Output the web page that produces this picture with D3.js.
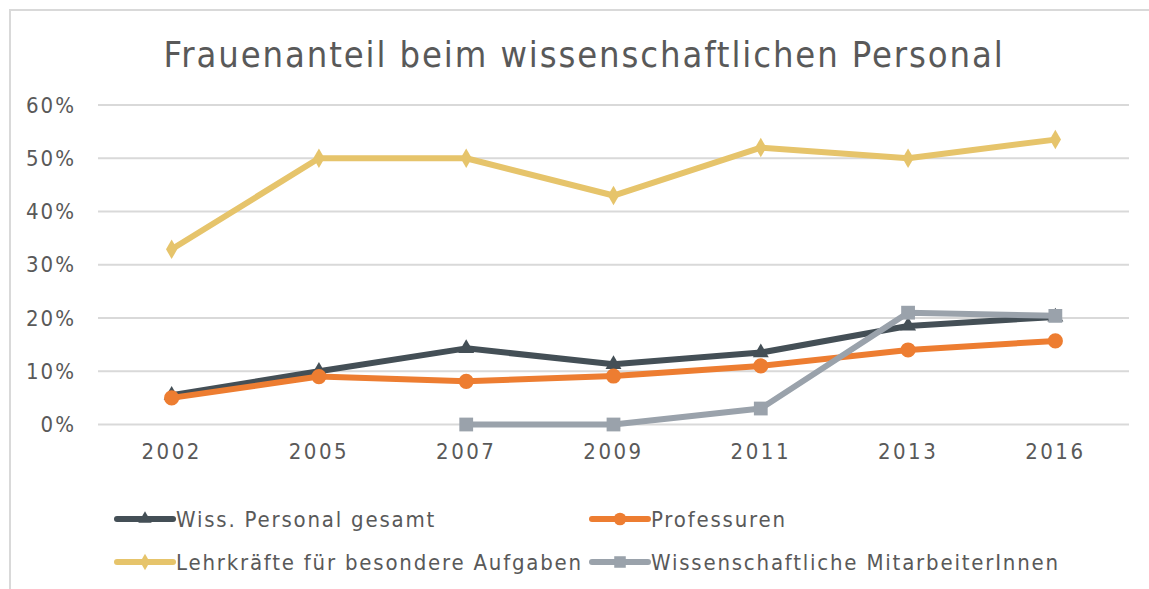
<!DOCTYPE html>
<html>
<head>
<meta charset="utf-8">
<script src="https://cdn.jsdelivr.net/npm/d3@7"></script>
<style>
  body { margin: 0; background: #fff; }
  text { font-family: "DejaVu Sans Condensed", sans-serif; fill: #595959; }
</style>
</head>
<body>
<div id="chart"></div>
<script>
// Categories and values (share of women, %)
const years = ["2002", "2005", "2007", "2009", "2011", "2013", "2016"]
const gesamt = [5.5, 10.0, 14.3, 11.3, 13.5, 18.5, 20.2]
const professuren = [5.0, 9.0, 8.1, 9.1, 11.0, 14.0, 15.7]
const lehrkraefte = [32.9, 50.0, 50.0, 43.0, 52.0, 50.0, 53.5]
const mitarbeiter = [null, null, 0.0, 0.0, 3.0, 21.0, 20.4]
const yTicks = [0, 10, 20, 30, 40, 50, 60]

const series = [
    { name: "Wiss. Personal gesamt", values: gesamt, color: "#444f56", marker: "triangle" },
    { name: "Professuren", values: professuren, color: "#ed7d31", marker: "circle" },
    { name: "Lehrkräfte für besondere Aufgaben", values: lehrkraefte, color: "#e6c46b", marker: "diamond" },
    { name: "Wissenschaftliche MitarbeiterInnen", values: mitarbeiter, color: "#9aa2ab", marker: "square" }
]

const width = 1149, height = 589
const tickFont = "'DejaVu Sans Condensed', sans-serif"

const svg = d3.select("#chart")
    .append("svg")
    .attr("width", width)
    .attr("height", height)

// frame of the chart area (only top and left edge visible)
svg.append("rect")
    .attr("x", 10).attr("y", 10)
    .attr("width", width).attr("height", height)
    .attr("fill", "none")
    .attr("stroke", "#d9d9d9")
    .attr("stroke-width", 2)

svg.append("text")
    .attr("x", 584)
    .attr("y", 67)
    .attr("text-anchor", "middle")
    .style("font-size", "36px")
    .style("letter-spacing", "1.9px")
    .text("Frauenanteil beim wissenschaftlichen Personal")

const x = d3.scaleBand()
    .domain(years)
    .range([98, 1129])

const y = d3.scaleLinear()
    .domain([0, 60])
    .range([424.5, 105])

// gridlines
svg.append("g")
    .selectAll("line")
    .data(yTicks)
    .enter()
    .append("line")
    .attr("x1", 98).attr("x2", 1129)
    .attr("y1", d => y(d)).attr("y2", d => y(d))
    .attr("stroke", "#d9d9d9")
    .attr("stroke-width", 2)

// y axis labels
const yAxis = svg.append("g")
    .attr("transform", "translate(76,0)")
    .call(d3.axisLeft(y).tickValues(yTicks).tickFormat(d => d + "%").tickSize(0).tickPadding(0))
yAxis.select(".domain").remove()
yAxis.selectAll("text")
    .attr("fill", "#595959")
    .style("font-size", "22px")
    .style("letter-spacing", "2px")
    .style("font-family", tickFont)

// x axis labels
const xAxis = svg.append("g")
    .attr("transform", "translate(0,440)")
    .call(d3.axisBottom(x).tickSize(0).tickPadding(0))
xAxis.select(".domain").remove()
xAxis.selectAll("text")
    .attr("fill", "#595959")
    .attr("dy", "0.85em")
    .style("font-size", "22px")
    .style("letter-spacing", "2.5px")
    .style("font-family", tickFont)

const cx = d => x(d) + x.bandwidth() / 2

const symbolType = {
    triangle: d3.symbolTriangle,
    circle: d3.symbolCircle,
    diamond: d3.symbolDiamond,
    square: d3.symbolSquare
}
const symbolSize = { triangle: 110, circle: 180, diamond: 110, square: 190 }

const line = d3.line()
    .defined(d => d.v !== null)
    .x(d => cx(d.year))
    .y(d => y(d.v))

series.forEach(function (s) {
    const pts = years.map((yr, i) => ({ year: yr, v: s.values[i] }))
    const g = svg.append("g")
    g.append("path")
        .datum(pts)
        .attr("d", line)
        .attr("fill", "none")
        .attr("stroke", s.color)
        .attr("stroke-width", 6)
        .attr("stroke-linejoin", "round")
    g.selectAll("path.pt")
        .data(pts.filter(d => d.v !== null))
        .enter()
        .append("path")
        .attr("class", "pt")
        .attr("transform", d => "translate(" + cx(d.year) + "," + y(d.v) + ")")
        .attr("d", d3.symbol().type(symbolType[s.marker]).size(symbolSize[s.marker]))
        .attr("fill", s.color)
})

// legend
const legendPos = [[117, 519], [592, 519], [117, 562], [592, 562]]
series.forEach(function (s, i) {
    const lg = svg.append("g")
        .attr("transform", "translate(" + legendPos[i][0] + "," + legendPos[i][1] + ")")
    lg.append("line")
        .attr("x1", 0).attr("x2", 56)
        .attr("stroke", s.color)
        .attr("stroke-width", 6)
        .attr("stroke-linecap", "round")
    lg.append("path")
        .attr("transform", "translate(28,0)")
        .attr("d", d3.symbol().type(symbolType[s.marker]).size(symbolSize[s.marker] * 0.7))
        .attr("fill", s.color)
    lg.append("text")
        .attr("x", 59)
        .attr("y", 8)
        .style("font-size", "22px")
        .style("letter-spacing", "1.8px")
        .text(s.name)
})
</script>
</body>
</html>
